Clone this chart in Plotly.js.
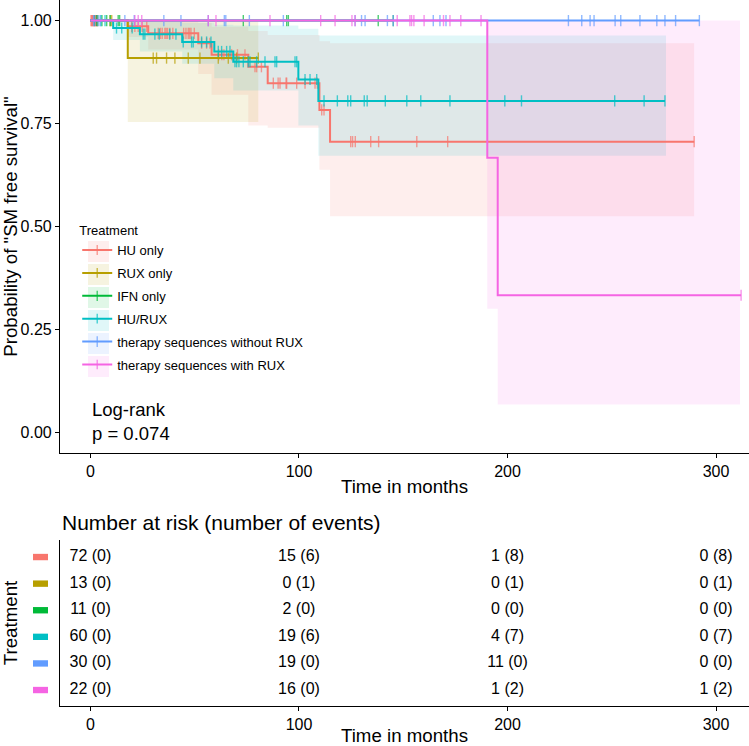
<!DOCTYPE html>
<html><head><meta charset="utf-8">
<script src="https://cdn.plot.ly/plotly-3.0.1.min.js"></script>
<style>html,body{margin:0;padding:0;background:#fff}#chart{width:749px;height:746px}</style>
</head><body><div id="chart"></div>
<script>
// ---------- data ----------
const groups = ["HU only", "RUX only", "IFN only", "HU/RUX", "therapy sequences without RUX", "therapy sequences with RUX"];
const colors = ["#F8766D", "#B79F00", "#00BA38", "#00BFC4", "#619CFF", "#F564E3"];

// event times (months) and survival just after each event
const huEventT = [17.8, 27.7, 51.7, 58.1, 75.7, 85.0, 109.8, 114.9];
const huEventS = [0.986, 0.969, 0.945, 0.917, 0.888, 0.848, 0.783, 0.706];
const ruxEventT = [17.9];
const ruxEventS = [0.909];
const ifnEventT = [];
const ifnEventS = [];
const huruxEventT = [10.9, 23.7, 44.0, 59.4, 68.5, 99.7, 109.3];
const huruxEventS = [0.982, 0.967, 0.948, 0.925, 0.900, 0.857, 0.805];
const woEventT = [];
const woEventS = [];
const wEventT = [190.3, 195.3];
const wEventS = [0.667, 0.333];

// censoring times (months)
const huCensor = [0.3, 0.5, 0.8, 1.0, 1.2, 1.5, 1.8, 2.0, 2.2, 2.5, 2.8, 3.0, 3.3, 3.5, 19.8, 21.3, 22.9, 24.8, 27.0,
  32.5, 33.5, 34.4, 35.7, 37.0, 38.1, 39.5, 44.7, 45.8, 46.9, 48.2, 49.8, 53.3, 55.7, 57.3,
  61.5, 64.0, 67.7, 70.5, 74.1, 78.9, 79.7, 82.0, 87.7, 90.0, 90.9, 93.8, 94.1, 98.9, 36.3, 47.5, 63.0,
  102.9, 107.7, 108.8, 110.9, 112.0, 124.8, 125.7, 127.0, 134.4, 138.2, 156.5, 171.3, 289.5];
const ruxCensor = [9.4, 10.2, 30.1, 31.7, 36.5, 40.5, 46.9, 52.5, 61.3, 66.1, 70.1, 80.5];
const ifnCensor = [3.0, 5.5, 7.8, 9.5, 13.3, 14.0, 73.3, 94.1, 94.9, 138.0, 145.2];
const huruxCensor = [2.0, 3.6, 5.0, 7.0, 12.5, 15.0, 20.0, 25.3, 26.1, 30.9, 33.0, 38.0, 41.0,
  44.5, 48.5, 49.3, 53.3, 55.7, 57.8, 61.3, 62.9, 65.3, 66.9,
  69.3, 70.1, 71.2, 73.3, 75.7, 76.5, 79.7, 83.7, 88.5, 89.3, 98.1, 98.9,
  102.9, 105.3, 108.5, 112.0, 118.4, 123.4, 124.8, 131.3, 132.7, 141.4, 151.7, 158.4, 172.4, 198.7,
  206.7, 251.4, 265.5, 275.5];
const woCensor = [1.5, 4.6, 16.5, 21.0, 35.2, 43.4, 56.5, 64.2, 64.9, 76.2, 92.5,
  126.9, 130.0, 131.7, 142.4, 145.2, 164.4, 167.6, 170.5,
  229.2, 235.6, 239.6, 241.5, 251.6, 254.3, 263.5, 271.6, 275.5, 280.6, 292.0];
const wCensor = [21.3, 22.9, 24.6, 56.5, 60.2, 86.1,
  110.4, 117.3, 125.4, 126.9, 147.1, 153.2, 154.0, 155.1, 160.0, 169.3, 172.4, 177.6, 187.3, 312.0];

// confidence bands (step)
const huBandT = [0, 17.8, 27.7, 51.7, 58.1, 75.7, 85.0, 109.8, 114.9, 289.5];
const huBandLo = [1, 0.96, 0.93, 0.87, 0.82, 0.745, 0.74, 0.638, 0.525, 0.525];
const huBandHi = [1, 1.0, 1.0, 0.995, 0.985, 0.975, 0.965, 0.95, 0.945, 0.945];
const ruxBandT = [0, 17.9, 80.5];
const ruxBandLo = [1, 0.754, 0.754];
const ruxBandHi = [1, 1.0, 1.0];
const huruxBandT = [0, 10.9, 23.7, 44.0, 59.4, 68.5, 99.7, 109.3, 276.0];
const huruxBandLo = [1, 0.953, 0.925, 0.895, 0.86, 0.83, 0.745, 0.672, 0.672];
const huruxBandHi = [1, 1.0, 1.0, 0.995, 0.99, 0.988, 0.98, 0.964, 0.964];
const wBandT = [0, 190.3, 195.3, 311.5];
const wBandLo = [1, 0.30, 0.068, 0.068];
const wBandHi = [1, 1.0, 1.0, 1.0];

// number at risk table
const riskTimes = [0, 100, 200, 300];
const huRisk = [72, 15, 1, 0], huEvents = [0, 6, 8, 8];
const ruxRisk = [13, 0, 0, 0], ruxEvents = [0, 1, 1, 1];
const ifnRisk = [11, 2, 0, 0], ifnEvents = [0, 0, 0, 0];
const huruxRisk = [60, 19, 4, 0], huruxEvents = [0, 6, 7, 7];
const woRisk = [30, 19, 11, 0], woEvents = [0, 0, 0, 0];
const wRisk = [22, 16, 1, 1], wEvents = [0, 0, 2, 2];

const pValueText = "Log-rank<br>p = 0.074";

// ---------- build ----------
function rgba(hex, a) {
  const r = parseInt(hex.slice(1, 3), 16), g = parseInt(hex.slice(3, 5), 16), b = parseInt(hex.slice(5, 7), 16);
  return `rgba(${r},${g},${b},${a})`;
}
const bandAlpha = 0.12;
const bands = [
  [0, huBandT, huBandLo, huBandHi],
  [1, ruxBandT, ruxBandLo, ruxBandHi],
  [3, huruxBandT, huruxBandLo, huruxBandHi],
  [5, wBandT, wBandLo, wBandHi]
];
const curves = [
  [huEventT, huEventS, huCensor],
  [ruxEventT, ruxEventS, ruxCensor],
  [ifnEventT, ifnEventS, ifnCensor],
  [huruxEventT, huruxEventS, huruxCensor],
  [woEventT, woEventS, woCensor],
  [wEventT, wEventS, wCensor]
];
const risks = [[huRisk, huEvents], [ruxRisk, ruxEvents], [ifnRisk, ifnEvents], [huruxRisk, huruxEvents], [woRisk, woEvents], [wRisk, wEvents]];

const traces = [];
bands.forEach(([gi, t, lo, hi]) => {
  traces.push({x: t, y: lo, xaxis: 'x', yaxis: 'y', mode: 'lines', line: {width: 0, shape: 'hv'},
    showlegend: false, hoverinfo: 'skip', legendgroup: 'g' + gi});
  traces.push({x: t, y: hi, xaxis: 'x', yaxis: 'y', mode: 'lines', line: {width: 0, shape: 'hv'},
    fill: 'tonexty', fillcolor: rgba(colors[gi], bandAlpha),
    showlegend: false, hoverinfo: 'skip', legendgroup: 'g' + gi});
});

curves.forEach(([evT, evS, cens], gi) => {
  const pts = [{t: 0, s: 1, c: false}];
  evT.forEach((t, i) => pts.push({t: t, s: evS[i], c: false}));
  cens.forEach(t => pts.push({t: t, s: null, c: true}));
  pts.sort((a, b) => a.t - b.t);
  let cur = 1;
  pts.forEach(p => { if (!p.c) cur = p.s; else p.s = cur; });
  traces.push({
    x: pts.map(p => p.t), y: pts.map(p => p.s), xaxis: 'x', yaxis: 'y',
    mode: 'lines+markers', name: groups[gi], legendgroup: 'g' + gi,
    line: {color: colors[gi], width: 2, shape: 'hv'},
    marker: {symbol: 'line-ns', size: pts.map(p => p.c ? 8 : 0), color: colors[gi],
      line: {color: colors[gi], width: 1.4}},
    hoverinfo: 'x+y+name'
  });
});

// risk table text
const tx = [], ty = [], tt = [];
risks.forEach(([r, e], gi) => {
  riskTimes.forEach((t, j) => { tx.push(t); ty.push(gi + 1); tt.push(r[j] + ' (' + e[j] + ')'); });
});
traces.push({x: tx, y: ty, text: tt, mode: 'text', xaxis: 'x2', yaxis: 'y2', showlegend: false,
  textfont: {size: 16, color: '#000'}, hoverinfo: 'skip'});

// colour keys of the risk table rows
const shapes = groups.map((g, gi) => ({
  type: 'rect', xref: 'paper', yref: 'y2', x0: -0.0392, x1: -0.0174, y0: gi + 1 - 0.12, y1: gi + 1 + 0.12,
  fillcolor: colors[gi], line: {width: 0}
}));
// light boxes behind the legend keys
const plotH = 706, plotW = 689;
const legendCenters = [251.5, 274.5, 297.5, 320.5, 343.5, 366.5];
groups.forEach((g, gi) => {
  shapes.push({type: 'rect', xref: 'paper', yref: 'paper', layer: 'below',
    x0: (88 - 60) / plotW, x1: (109 - 60) / plotW,
    y0: 1 - (legendCenters[gi] + 10.5) / plotH, y1: 1 - (legendCenters[gi] - 10.5) / plotH,
    fillcolor: rgba(colors[gi], bandAlpha), line: {width: 0}});
});

const axisCommon = {showgrid: false, zeroline: false, showline: true, linecolor: '#000', linewidth: 1.1,
  ticks: 'outside', ticklen: 4, tickcolor: '#000', tickwidth: 1, tickfont: {size: 16, color: '#000'}};

const layout = {
  width: 749, height: 746,
  margin: {l: 60, r: 0, t: 0, b: 40},
  paper_bgcolor: '#fff', plot_bgcolor: '#fff',
  font: {family: 'Liberation Sans, Arial, sans-serif', size: 16, color: '#000'},
  showlegend: true,
  legend: {x: 0.025, y: 0.691, xanchor: 'left', yanchor: 'top', bgcolor: 'rgba(0,0,0,0)',
    font: {size: 13, color: '#000'}, title: {text: 'Treatment', font: {size: 13, color: '#000'}, side: 'top'},
    tracegroupgap: 3, itemwidth: 30},
  xaxis: Object.assign({}, axisCommon, {domain: [0, 1], range: [-14.6, 315.8], anchor: 'y',
    tickvals: riskTimes, title: {text: 'Time in months', font: {size: 18.7}, standoff: 0}}),
  yaxis: Object.assign({}, axisCommon, {domain: [0.3584, 1], range: [-0.05, 1.05], anchor: 'x',
    tickvals: [0, 0.25, 0.5, 0.75, 1], tickformat: '.2f',
    title: {text: 'Probability of "SM free survival"', font: {size: 18.7}, standoff: 0}}),
  xaxis2: Object.assign({}, axisCommon, {domain: [0, 1], range: [-14.6, 315.8], anchor: 'y2',
    tickvals: riskTimes, title: {text: 'Time in months', font: {size: 18.7}, standoff: 0}}),
  yaxis2: Object.assign({}, axisCommon, {domain: [0, 0.2351], range: [6.6, 0.36], anchor: 'x2',
    ticks: '', showticklabels: false, tickvals: [],
    title: {text: 'Treatment', font: {size: 18.7}, standoff: 38}}),
  shapes: shapes,
  annotations: [
    {text: pValueText, xref: 'x', yref: 'y', x: 0, y: 0.027, xanchor: 'left', yanchor: 'middle', align: 'left',
      showarrow: false, font: {size: 18.5, color: '#000'}},
    {text: 'Number at risk (number of events)', xref: 'paper', yref: 'paper', x: 0, y: 0.2606,
      xanchor: 'left', yanchor: 'middle', showarrow: false, font: {size: 21, color: '#000'}}
  ]
};

Plotly.newPlot('chart', traces, layout, {displayModeBar: false, staticPlot: true});
</script>
</body></html>
